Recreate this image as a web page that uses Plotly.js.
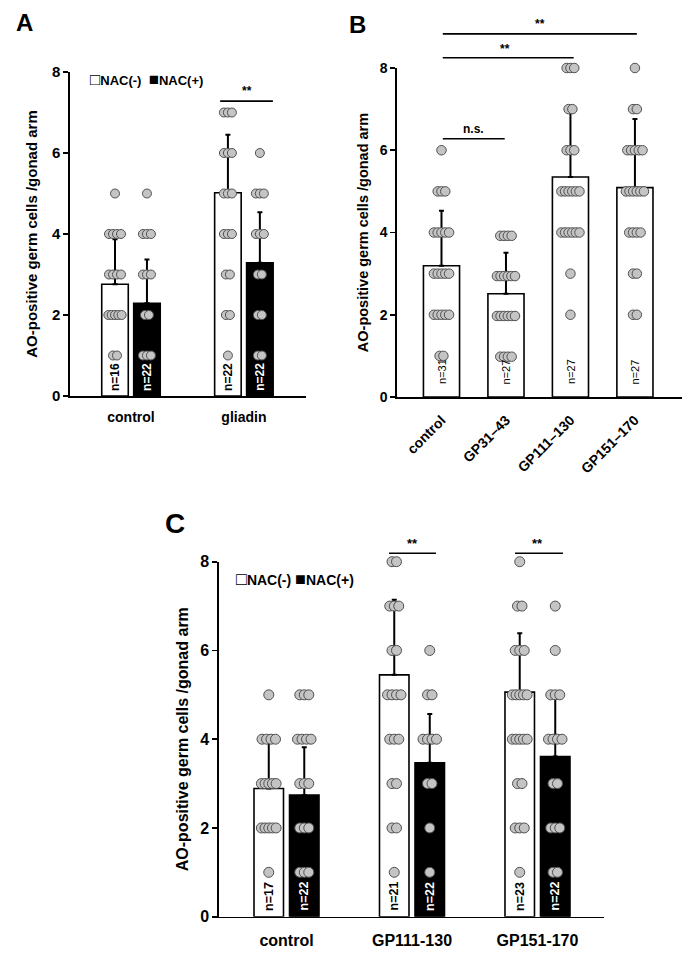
<!DOCTYPE html>
<html><head><meta charset="utf-8">
<script src="https://cdn.plot.ly/plotly-3.0.1.min.js"></script>
<style>html,body{margin:0;padding:0;background:#fff}#chart{width:694px;height:958px}</style>
</head><body><div id="chart"></div>
<script>
// ---------- Panel A ----------
const aCategories = ['control', 'gliadin'];
const aMeanNeg = [2.76, 5.02];
const aSdNeg = [1.11, 1.43];
const aMeanPos = [2.29, 3.29];
const aSdPos = [1.08, 1.25];
const aNNeg = [16, 22];
const aNPos = [22, 22];
const aDotsNeg = [
  [5, 4, 4, 4, 4, 3, 3, 3, 3, 2, 2, 2, 2, 2, 1, 1],
  [7, 7, 7, 6, 6, 6, 5, 5, 5, 4, 4, 4, 3, 3, 2, 2, 1]
];
const aDotsPos = [
  [5, 4, 4, 4, 3, 3, 3, 2, 2, 1, 1, 1],
  [6, 5, 5, 5, 4, 4, 4, 3, 3, 2, 2, 1, 1]
];

// ---------- Panel B ----------
const bCategories = ['control', 'GP31\u201343', 'GP111\u2013130', 'GP151\u2013170'];
const bMean = [3.19, 2.51, 5.35, 5.09];
const bSd = [1.34, 1.00, 1.71, 1.67];
const bN = [31, 27, 27, 27];
const bDots = [
  [6, 5, 5, 5, 4, 4, 4, 4, 4, 3, 3, 3, 3, 3, 2, 2, 2, 2, 2, 1, 1],
  [3.92, 3.92, 3.92, 3.92, 2.94, 2.94, 2.94, 2.94, 2.94, 2.94, 1.97, 1.97, 1.97, 1.97, 1.97, 1.97, 0.98, 0.98, 0.98, 0.98],
  [8, 8, 8, 7, 7, 6, 6, 6, 5, 5, 5, 5, 5, 5, 4, 4, 4, 4, 4, 4, 3, 2],
  [8, 7, 7, 6, 6, 6, 6, 6, 5, 5, 5, 5, 5, 5, 4, 4, 4, 4, 3, 3, 2, 2]
];

// ---------- Panel C ----------
const cCategories = ['control', 'GP111-130', 'GP151-170'];
const cMeanNeg = [2.89, 5.45, 5.06];
const cSdNeg = [1.05, 1.69, 1.33];
const cMeanPos = [2.74, 3.47, 3.61];
const cSdPos = [1.08, 1.10, 1.33];
const cNNeg = [17, 21, 23];
const cNPos = [22, 22, 22];
const cDotsNeg = [
  [5, 4, 4, 4, 4, 3, 3, 3, 3, 3, 2, 2, 2, 2, 2, 1],
  [8, 8, 7, 7, 7, 6, 6, 5, 5, 5, 5, 4, 4, 4, 3, 3, 2, 2, 1],
  [8, 7, 7, 6, 6, 6, 5, 5, 5, 5, 5, 4, 4, 4, 4, 4, 3, 3, 2, 2, 2, 1]
];
const cDotsPos = [
  [5, 5, 5, 4, 4, 4, 4, 3, 3, 3, 2, 2, 2, 1, 1, 1],
  [6, 5, 5, 4, 4, 4, 4, 3, 3, 2, 1],
  [7, 6, 5, 5, 5, 4, 4, 4, 4, 3, 3, 2, 2, 2, 1, 1]
];

const legendLabels = ['NAC(-)', 'NAC(+)'];
const yTitle = 'AO-positive germ cells /gonad arm';

// ---------- layout geometry ----------
const W = 694, H = 958;
const FONT = 'Liberation Sans, Arial, sans-serif';
const geo = {
  A: {xd: [70 / W, 306 / W], yd: [1 - 396 / H, 1 - 72 / H], xr: [-0.54, 1.55], step: 4},
  B: {xd: [397 / W, 682 / W], yd: [1 - 397 / H, 1 - 68 / H], xr: [-0.69, 3.73], step: 3.8},
  C: {xd: [219 / W, 604 / W], yd: [1 - 916.7 / H, 1 - 561.7 / H], xr: [-0.538, 2.53], step: 4.5}
};
const YMAX = 8;
const pairW = 0.235, pairGap = 0.048, singleW = 0.56;

function py(g, v) { return g.yd[0] + (v / YMAX) * (g.yd[1] - g.yd[0]); }
function pxPerUnit(g) { return (g.xd[1] - g.xd[0]) * W / (g.xr[1] - g.xr[0]); }

function spreadX(values, center, bw, g) {
  const counts = {};
  values.forEach(v => { counts[v] = (counts[v] || 0) + 1; });
  const seen = {};
  const baseStep = g.step / pxPerUnit(g);
  return values.map(v => {
    const k = counts[v];
    const i = seen[v] = (seen[v] === undefined ? 0 : seen[v] + 1);
    const step = k > 1 ? Math.min(baseStep, 0.5 * bw / (k - 1)) : 0;
    return center + (i - (k - 1) / 2) * step;
  });
}

const dotMarker = (size) => ({size: size, color: '#c4c4c4', line: {color: '#505050', width: 1}});
const traces = [];
const annotations = [];
const shapes = [];

function barTrace(xa, ya, means, sds, offset, width, fill) {
  return {
    type: 'bar', xaxis: xa, yaxis: ya,
    x: means.map((_, i) => i), y: means,
    offset: offset, width: width,
    marker: {color: fill, line: {color: '#000', width: 1.6}},
    error_y: {type: 'data', symmetric: false, array: sds, arrayminus: sds.map(() => 0),
      color: '#000', thickness: 2, width: 2.5},
    hoverinfo: 'y'
  };
}

function dotsTrace(xa, ya, groups, off, bw, size, g) {
  const xs = [], ys = [];
  groups.forEach((vals, i) => {
    const xx = spreadX(vals, i + off + bw / 2, bw, g);
    xs.push(...xx); ys.push(...vals);
  });
  return {type: 'scatter', mode: 'markers', xaxis: xa, yaxis: ya, x: xs, y: ys, cliponaxis: false,
    marker: dotMarker(size), hoverinfo: 'y'};
}

function nLabels(xref, yref, ns, off, bw, color, size, bold, shift) {
  ns.forEach((n, i) => {
    annotations.push({xref: xref, yref: yref, x: i + off + bw / 2, y: 0,
      text: 'n=' + n, textangle: -90, showarrow: false, yanchor: 'bottom', xanchor: 'center',
      yshift: shift,
      font: {family: FONT, size: size, color: color, weight: bold ? 'bold' : 'normal'}});
  });
}

// Panel A
const negOff = -pairW - pairGap / 2, posOff = pairGap / 2;
traces.push(barTrace('x', 'y', aMeanNeg, aSdNeg, negOff, pairW, '#fff'));
traces.push(barTrace('x', 'y', aMeanPos, aSdPos, posOff, pairW, '#000'));
traces.push(dotsTrace('x', 'y', aDotsNeg, negOff, pairW, 9, geo.A));
traces.push(dotsTrace('x', 'y', aDotsPos, posOff, pairW, 9, geo.A));
nLabels('x', 'y', aNNeg, negOff, pairW, '#000', 12, true, 3);
nLabels('x', 'y', aNPos, posOff, pairW, '#fff', 12, true, 3);

// Panel B
traces.push(barTrace('x2', 'y2', bMean, bSd, -singleW / 2, singleW, '#fff'));
traces.push(dotsTrace('x2', 'y2', bDots, -singleW / 2, singleW, 9.5, geo.B));
nLabels('x2', 'y2', bN, -singleW / 2, singleW, '#000', 11, false, 11);

// Panel C
traces.push(barTrace('x3', 'y3', cMeanNeg, cSdNeg, negOff, pairW, '#fff'));
traces.push(barTrace('x3', 'y3', cMeanPos, cSdPos, posOff, pairW, '#000'));
traces.push(dotsTrace('x3', 'y3', cDotsNeg, negOff, pairW, 10, geo.C));
traces.push(dotsTrace('x3', 'y3', cDotsPos, posOff, pairW, 10, geo.C));
nLabels('x3', 'y3', cNNeg, negOff, pairW, '#000', 12.5, true, 4);
nLabels('x3', 'y3', cNPos, posOff, pairW, '#fff', 12.5, true, 4);

// significance marks: [x0, x1, lineY, label, labelX, labelY]
const aSig = [[0.79, 1.257, 7.28, '**', 1.03, 7.52]];
const bSig = [[0.02, 3.03, 8.83, '**', 1.53, 9.06], [0.02, 2.05, 8.25, '**', 0.98, 8.47], [0.02, 0.98, 6.28, 'n.s.', 0.5, 6.52]];
const cSig = [[0.817, 1.191, 8.19, '**', 1.0, 8.4], [1.821, 2.203, 8.19, '**', 2.0, 8.4]];
function addSig(list, xref, g, fs) {
  list.forEach(s => {
    shapes.push({type: 'line', xref: xref, yref: 'paper', x0: s[0], x1: s[1], y0: py(g, s[2]), y1: py(g, s[2]),
      line: {color: '#000', width: 1.6}});
    annotations.push({xref: xref, yref: 'paper', x: s[4], y: py(g, s[5]), text: s[3], showarrow: false,
      xanchor: 'center', yanchor: 'middle', font: {family: FONT, size: fs, color: '#000', weight: 'bold'}});
  });
}
addSig(aSig, 'x', geo.A, 12);
addSig(bSig, 'x2', geo.B, 12);
addSig(cSig, 'x3', geo.C, 13);

// panel letters
[['A', 24 / W, 1 - 22 / H, 24], ['B', 358 / W, 1 - 24 / H, 24], ['C', 175 / W, 1 - 523 / H, 28]].forEach(p => {
  annotations.push({xref: 'paper', yref: 'paper', x: p[1], y: p[2], text: p[0], showarrow: false,
    xanchor: 'center', yanchor: 'middle', font: {family: FONT, size: p[3], color: '#000', weight: 'bold'}});
});

// legends
function legendText(sq, gap) {
  return '<span style="font-size:' + sq + 'px">\u25A1</span>' + legendLabels[0] + gap +
    '<span style="font-size:' + sq + 'px">\u25A0</span>' + legendLabels[1];
}
annotations.push({xref: 'paper', yref: 'paper', x: 88 / W, y: 1 - 79 / H, text: legendText(17, '  '), showarrow: false,
  xanchor: 'left', yanchor: 'middle', font: {family: FONT, size: 13, color: '#000', weight: 'bold'}});
annotations.push({xref: 'paper', yref: 'paper', x: 234 / W, y: 1 - 579 / H, text: legendText(18, ' '), showarrow: false,
  xanchor: 'left', yanchor: 'middle', font: {family: FONT, size: 14, color: '#000', weight: 'bold'}});

function xAxis(g, anchor, cats, fs, angle, standoff) {
  return {domain: g.xd, range: g.xr, anchor: anchor, tickvals: cats.map((_, i) => i), ticktext: cats,
    ticks: '', showline: true, linecolor: '#000', linewidth: 1.6, showgrid: false, zeroline: false,
    tickangle: angle, ticklabelstandoff: standoff, fixedrange: true,
    tickfont: {family: FONT, size: fs, color: '#000', weight: 'bold'}};
}
function yAxis(g, anchor, fs, tfs, standoff) {
  return {domain: g.yd, range: [0, YMAX], anchor: anchor, tickvals: [0, 2, 4, 6, 8], ticks: 'outside',
    ticklen: 5, tickwidth: 1.6, tickcolor: '#000', showline: true, linecolor: '#000', linewidth: 1.6,
    showgrid: false, zeroline: false, fixedrange: true,
    tickfont: {family: FONT, size: fs, color: '#000', weight: 'bold'},
    title: {text: yTitle, standoff: standoff, font: {family: FONT, size: tfs, color: '#000', weight: 'bold'}}};
}

const layout = {
  width: W, height: H, margin: {l: 0, r: 0, t: 0, b: 0}, showlegend: false,
  paper_bgcolor: '#fff', plot_bgcolor: '#fff',
  xaxis: xAxis(geo.A, 'y', aCategories, 14, 0, 8),
  yaxis: yAxis(geo.A, 'x', 15, 15, 11),
  xaxis2: xAxis(geo.B, 'y2', bCategories, 14, -45, 8),
  yaxis2: yAxis(geo.B, 'x2', 14, 14.5, 8),
  xaxis3: xAxis(geo.C, 'y3', cCategories, 16, 0, 8),
  yaxis3: yAxis(geo.C, 'x3', 16, 16, 7),
  annotations: annotations, shapes: shapes
};

Plotly.newPlot('chart', traces, layout, {displayModeBar: false, staticPlot: true});
</script>
</body></html>
